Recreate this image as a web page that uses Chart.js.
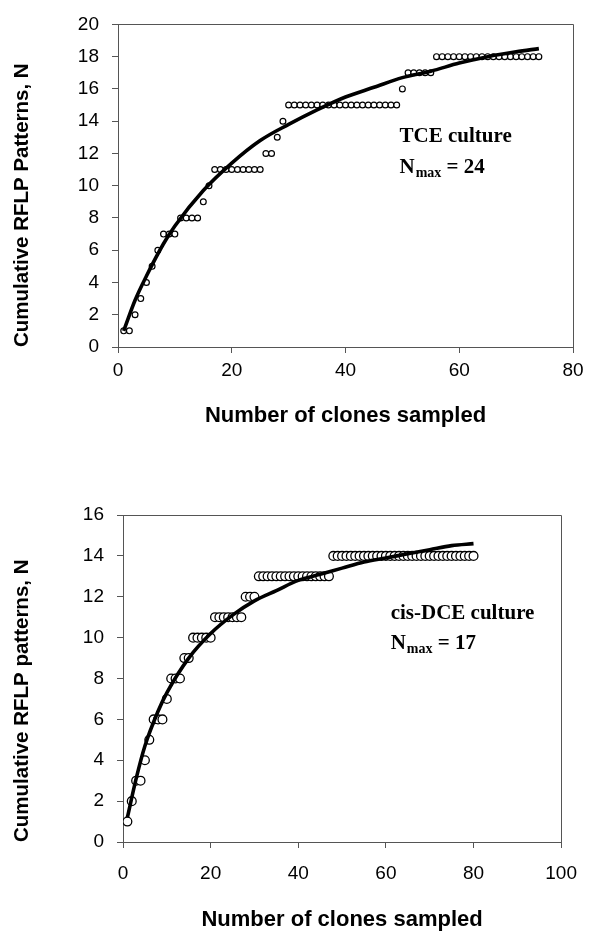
<!DOCTYPE html>
<html>
<head>
<meta charset="utf-8">
<script src="https://cdn.jsdelivr.net/npm/chart.js@4.4.1/dist/chart.umd.min.js"></script>
<style>
    html, body { margin: 0; padding: 0; background: #fff; }
    #tceChart { position: absolute; left: 0; top: 0; }
    #dceChart { position: absolute; left: 0; top: 466px; }
</style>
</head>
<body>
<canvas id="tceChart" width="591" height="466"></canvas>
<canvas id="dceChart" width="591" height="467"></canvas>
<script>
// --- TCE culture: observed cumulative patterns ---
const tceClones = [1, 2, 3, 4, 5, 6, 7, 8, 9, 10, 11, 12, 13, 14, 15, 16, 17, 18, 19, 20,
    21, 22, 23, 24, 25, 26, 27, 28, 29, 30, 31, 32, 33, 34, 35, 36, 37, 38, 39, 40,
    41, 42, 43, 44, 45, 46, 47, 48, 49, 50, 51, 52, 53, 54, 55, 56, 57, 58, 59, 60,
    61, 62, 63, 64, 65, 66, 67, 68, 69, 70, 71, 72, 73, 74];
const tcePatterns = [1, 1, 2, 3, 4, 5, 6, 7, 7, 7, 8, 8, 8, 8, 9, 10, 11, 11, 11, 11,
    11, 11, 11, 11, 11, 12, 12, 13, 14, 15, 15, 15, 15, 15, 15, 15, 15, 15, 15, 15,
    15, 15, 15, 15, 15, 15, 15, 15, 15, 16, 17, 17, 17, 17, 17, 18, 18, 18, 18, 18,
    18, 18, 18, 18, 18, 18, 18, 18, 18, 18, 18, 18, 18, 18];
// fitted curve
const tceFitX = [1, 3, 5, 8, 10, 15, 20, 25, 30, 35, 40, 45, 50, 55, 60, 65, 70, 74];
const tceFitY = [1.0, 2.9, 4.4, 6.4, 7.5, 9.7, 11.4, 12.8, 13.8, 14.7, 15.5, 16.1, 16.7, 17.1, 17.6, 18.0, 18.3, 18.5];

// --- cis-DCE culture ---
const dceClones = [1, 2, 3, 4, 5, 6, 7, 8, 9, 10, 11, 12, 13, 14, 15, 16, 17, 18, 19, 20,
    21, 22, 23, 24, 25, 26, 27, 28, 29, 30, 31, 32, 33, 34, 35, 36, 37, 38, 39, 40,
    41, 42, 43, 44, 45, 46, 47, 48, 49, 50, 51, 52, 53, 54, 55, 56, 57, 58, 59, 60,
    61, 62, 63, 64, 65, 66, 67, 68, 69, 70, 71, 72, 73, 74, 75, 76, 77, 78, 79, 80];
const dcePatterns = [1, 2, 3, 3, 4, 5, 6, 6, 6, 7, 8, 8, 8, 9, 9, 10, 10, 10, 10, 10,
    11, 11, 11, 11, 11, 11, 11, 12, 12, 12, 13, 13, 13, 13, 13, 13, 13, 13, 13, 13,
    13, 13, 13, 13, 13, 13, 13, 14, 14, 14, 14, 14, 14, 14, 14, 14, 14, 14, 14, 14,
    14, 14, 14, 14, 14, 14, 14, 14, 14, 14, 14, 14, 14, 14, 14, 14, 14, 14, 14, 14];
const dceFitX = [1, 3, 5, 8, 10, 15, 20, 25, 30, 35, 40, 45, 50, 55, 60, 65, 70, 75, 80];
const dceFitY = [1.2, 3.1, 4.7, 6.4, 7.3, 9.0, 10.2, 11.1, 11.8, 12.3, 12.8, 13.1, 13.4, 13.7, 13.9, 14.1, 14.3, 14.5, 14.6];

const tceXTicks = [0, 20, 40, 60, 80];
const dceXTicks = [0, 20, 40, 60, 80, 100];

const AXIS_GREY = '#555';
const SANS = "'Liberation Sans', Arial, sans-serif";
const SERIF = "'Liberation Serif', 'Times New Roman', serif";

function toPoints(xs, ys) {
    return xs.map((x, i) => ({ x: x, y: ys[i] }));
}

// box round the plot + the text inside it
const frameAndNotes = {
    id: 'frameAndNotes',
    afterDraw(chart, args, opts) {
        const { ctx, chartArea: a, scales } = chart;
        ctx.save();
        ctx.strokeStyle = AXIS_GREY;
        ctx.lineWidth = 1;
        ctx.beginPath();
        ctx.moveTo(Math.round(a.left), Math.round(a.top) + 0.5);
        ctx.lineTo(Math.round(a.right) + 0.5, Math.round(a.top) + 0.5);
        ctx.lineTo(Math.round(a.right) + 0.5, Math.round(a.bottom));
        ctx.stroke();

        ctx.fillStyle = '#000';
        ctx.textBaseline = 'alphabetic';
        const x0 = scales.x.getPixelForValue(opts.noteX);
        ctx.font = 'bold 21px ' + SERIF;
        ctx.fillText(opts.culture, x0, scales.y.getPixelForValue(opts.line1Y));
        const y2 = scales.y.getPixelForValue(opts.line2Y);
        ctx.fillText('N', x0, y2);
        let x = x0 + ctx.measureText('N').width;
        ctx.font = 'bold 14px ' + SERIF;
        ctx.fillText('max', x + 1, y2 + 4);
        x += ctx.measureText('max').width + 1;
        ctx.font = 'bold 21px ' + SERIF;
        ctx.fillText(' = ' + opts.nmax, x, y2);
        ctx.restore();
    }
};

function makeChart(canvasId, s) {
    const ctx = document.getElementById(canvasId).getContext('2d');
    return new Chart(ctx, {
        type: 'scatter',
        data: {
            datasets: [{
                label: 'fit',
                data: toPoints(s.fitX, s.fitY),
                showLine: true,
                borderColor: '#000',
                borderWidth: 3.6,
                pointRadius: 0,
                cubicInterpolationMode: 'monotone',
                order: 0
            }, {
                label: 'observed',
                data: toPoints(s.clones, s.patterns),
                showLine: false,
                pointRadius: s.radius,
                pointBorderWidth: s.border,
                pointBackgroundColor: '#fff',
                pointBorderColor: '#000',
                order: 1
            }]
        },
        options: {
            responsive: false,
            animation: false,
            layout: { padding: s.padding },
            plugins: {
                legend: { display: false },
                tooltip: { enabled: false },
                frameAndNotes: s.notes
            },
            scales: {
                x: {
                    type: 'linear',
                    min: 0,
                    max: s.xMax,
                    afterBuildTicks: scale => { scale.ticks = s.xTicks.map(v => ({ value: v })); },
                    ticks: { color: '#000', font: { family: SANS, size: 19 }, padding: s.xTickPad },
                    grid: { drawOnChartArea: false, tickLength: 6, color: AXIS_GREY },
                    border: { color: AXIS_GREY },
                    title: {
                        display: true, text: 'Number of clones sampled', color: '#000',
                        font: { family: SANS, size: 22, weight: 'bold' }, padding: 0
                    },
                    afterFit: scale => { scale.height = s.xHeight; }
                },
                y: {
                    min: 0,
                    max: s.yMax,
                    ticks: { stepSize: 2, color: '#000', font: { family: SANS, size: 19 }, padding: 13 },
                    grid: { drawOnChartArea: false, tickLength: 6, color: AXIS_GREY },
                    border: { color: AXIS_GREY },
                    title: {
                        display: true, text: s.yTitle, color: '#000', align: 'start',
                        font: { family: SANS, size: 20.5, weight: 'bold' }, padding: { top: 10, bottom: 0 }
                    },
                    afterFit: scale => { scale.width = s.yWidth; }
                }
            }
        },
        plugins: [frameAndNotes]
    });
}

makeChart('tceChart', {
    clones: tceClones, patterns: tcePatterns, fitX: tceFitX, fitY: tceFitY,
    xMax: 80, yMax: 20, xTicks: tceXTicks,
    radius: 2.9, border: 1.2,
    padding: { top: 23, right: 18, bottom: 37, left: 0 },
    xHeight: 82, yWidth: 118, xTickPad: 6,
    yTitle: 'Cumulative RFLP Patterns, N',
    notes: { culture: 'TCE culture', nmax: 24, noteX: 49.5, line1Y: 12.7, line2Y: 10.8 }
});

makeChart('dceChart', {
    clones: dceClones, patterns: dcePatterns, fitX: dceFitX, fitY: dceFitY,
    xMax: 100, yMax: 16, xTicks: dceXTicks,
    radius: 4.4, border: 1.3,
    padding: { top: 49, right: 19, bottom: 0, left: 0 },
    xHeight: 91, yWidth: 123, xTickPad: 14,
    yTitle: 'Cumulative RFLP patterns, N',
    notes: { culture: 'cis-DCE culture', nmax: 17, noteX: 61.1, line1Y: 10.9, line2Y: 9.45 }
});
</script>
</body>
</html>
